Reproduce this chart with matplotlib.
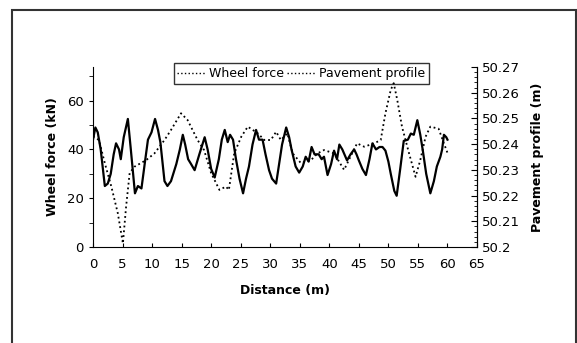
import numpy as np
import matplotlib
matplotlib.use('Agg')
import matplotlib.pyplot as plt
from matplotlib.patches import Rectangle
from matplotlib.ticker import MultipleLocator, FormatStrFormatter

plt.rcParams['font.family'] = ['DejaVu Sans']

# wheel force (kN) read along distance (m)
dist_force = [0, 0.4, 0.8, 1.3, 2.0, 2.5, 3.0, 3.5, 3.9, 4.4, 4.7, 5.2, 5.9, 6.4, 7.1, 7.6,
              8.2, 8.8, 9.3, 9.9, 10.5, 11.0, 11.4, 12.1, 12.6, 13.2, 14.1, 14.7, 15.2, 15.6,
              16.1, 16.6, 17.2, 18.0, 18.9, 19.4, 20.0, 20.6, 21.3, 21.8, 22.3, 22.8, 23.2,
              23.7, 24.2, 24.8, 25.4, 25.9, 26.4, 27.0, 27.6, 28.1, 28.7, 29.2, 29.8, 30.3,
              31.0, 31.5, 32.0, 32.7, 33.2, 33.6, 34.3, 34.9, 35.5, 36.0, 36.5, 37.0, 37.5,
              38.2, 38.7, 39.1, 39.7, 40.3, 40.8, 41.3, 41.7, 42.2, 43.0, 43.6, 44.2, 44.6,
              45.0, 45.6, 46.2, 46.8, 47.3, 47.9, 48.5, 49.0, 49.5, 50.0, 50.4, 51.0, 51.4,
              52.0, 52.6, 53.3, 53.8, 54.3, 54.9, 55.4, 55.8, 56.4, 57.1, 57.7, 58.2, 58.8,
              59.1, 59.4, 59.8, 60.0]
wheel_force = [44, 49, 47, 40, 25, 26, 30, 38, 42.5, 40, 36, 45, 52.5, 40, 22, 25,
               24, 35, 44, 47, 52.5, 48, 43, 27, 25, 27, 34, 40, 46, 42,
               36, 34, 31.5, 38, 45, 40, 32, 28.5, 36, 44, 48, 43, 46,
               44, 36, 28, 22, 28, 33, 42, 48, 44, 44, 38, 31.5, 28,
               26, 34, 42, 49, 45, 40, 33, 30.5, 33, 37, 35, 41, 38,
               38, 36, 37, 29.5, 34, 39.5, 36, 42, 40, 35.5, 38, 40, 38,
               35.5, 32, 29.5, 36, 42.5, 40, 41, 41, 39.5, 35, 30, 23, 21,
               32, 43.5, 44, 46.5, 46, 52, 46, 40, 30, 22, 27, 33, 37,
               40, 46, 45, 44]

# pavement profile (m) read along distance (m)
dist_profile = [0, 1.0, 2.0, 3.1, 4.2, 5.06, 5.6, 6.2, 7.0, 9.0, 10.4, 12.1, 13.2, 14.9,
                16.0, 17.7, 18.8, 20.0, 21.4, 22.5, 23.0, 23.9, 25.1, 26.2, 27.9, 29.0,
                30.1, 31.0, 31.8, 32.9, 33.8, 35.2, 36.9, 38.0, 39.1, 40.8, 42.5, 43.6,
                44.7, 45.9, 47.6, 48.7, 49.5, 50.4, 50.9, 51.5, 52.3, 53.5, 54.6, 55.4,
                56.3, 57.1, 58.5, 59.4, 60.0]
profile = [50.243, 50.2416, 50.2326, 50.2235, 50.2131, 50.2014, 50.2157, 50.2287, 50.2312,
           50.2338, 50.2364, 50.2416, 50.2455, 50.252, 50.2494, 50.2416, 50.2377, 50.2287,
           50.2222, 50.2235, 50.2222, 50.2364, 50.2429, 50.2468, 50.2442, 50.2416, 50.2416,
           50.2448, 50.2416, 50.2442, 50.2364, 50.2326, 50.2338, 50.2364, 50.2377, 50.2364,
           50.230, 50.2352, 50.2403, 50.239, 50.2403, 50.2416, 50.252, 50.2611, 50.2637,
           50.2572, 50.2468, 50.2364, 50.2273, 50.2338, 50.2429, 50.2468, 50.246, 50.2403,
           50.2366]

fig = plt.figure(figsize=(5.77, 3.43), dpi=100)
ax = fig.add_axes([0.1612, 0.2799, 0.6655, 0.5248])
ax2 = ax.twinx()

l1, = ax.plot(dist_force, wheel_force, '-', color='black', lw=1.6)
l2, = ax2.plot(dist_profile, profile, ':', color='black', lw=1.3)

ax.set_xlim(0, 65)
ax.set_ylim(0, 73.8)
ax2.set_ylim(50.2, 50.27)

ax.xaxis.set_major_locator(MultipleLocator(5))
ax.yaxis.set_major_locator(MultipleLocator(20))
ax.yaxis.set_minor_locator(MultipleLocator(10))
ax2.yaxis.set_major_locator(MultipleLocator(0.01))
ax2.yaxis.set_minor_locator(MultipleLocator(0.002))
ax2.yaxis.set_major_formatter(FormatStrFormatter('%g'))

for a in (ax, ax2):
    a.spines['top'].set_visible(False)
ax2.spines['left'].set_visible(False)
ax2.spines['bottom'].set_visible(False)

ax.tick_params(axis='x', direction='in', length=3, labelsize=9.5, pad=8)
ax.tick_params(axis='y', which='both', direction='out', length=3, labelsize=9.5)
ax2.tick_params(axis='y', which='major', direction='in', length=4, labelsize=9.5)
ax2.tick_params(axis='y', which='minor', direction='in', length=2)

bold = dict(fontsize=9, fontweight='bold')
ax.set_xlabel('Distance (m)', labelpad=9, **bold)
ax.set_ylabel('Wheel force (kN)', labelpad=6, **bold)
ax2.set_ylabel('Pavement profile (m)', labelpad=8, **bold)

leg = ax.legend([l1, l2], ['Wheel force', 'Pavement profile'], ncol=2,
                loc='upper left', bbox_to_anchor=(0.21, 1.02), frameon=True,
                fancybox=False, edgecolor='black', fontsize=9,
                handlelength=2.2, handletextpad=0.3, columnspacing=0.3,
                borderpad=0.3, borderaxespad=0)
leg.get_frame().set_linewidth(1.0)
for h in leg.get_lines():
    h.set_linestyle(':')
    h.set_linewidth(1.0)

fig.add_artist(Rectangle((12 / 577, -0.05), 564 / 577, 1.05 - 10 / 343,
                         transform=fig.transFigure, fill=False,
                         edgecolor='#333333', lw=1.5))

fig.savefig('out.png', dpi=100)
